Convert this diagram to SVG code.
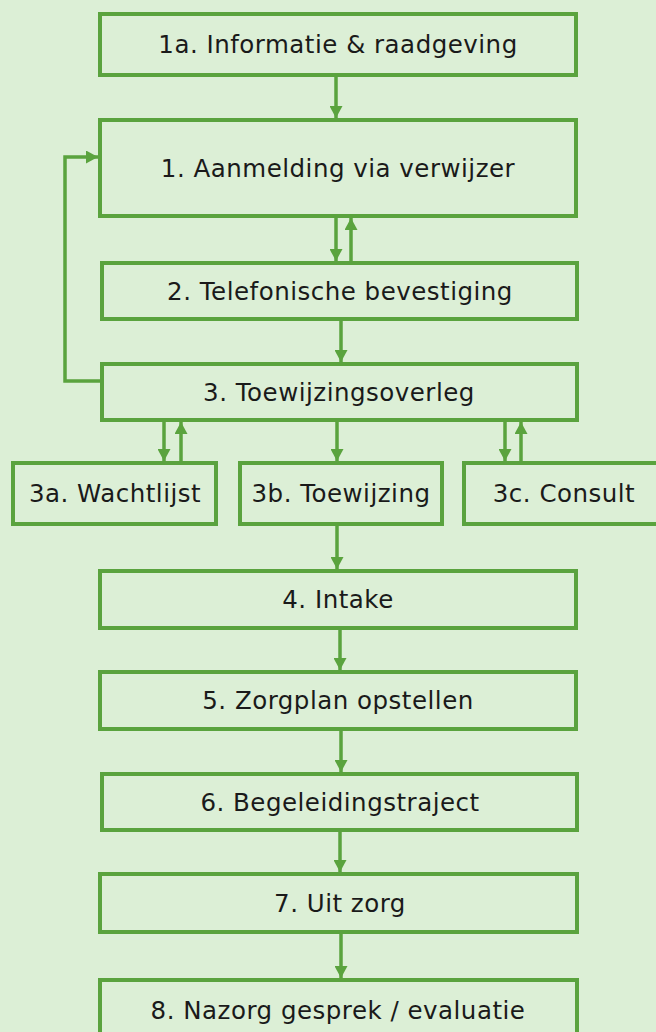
<svg xmlns="http://www.w3.org/2000/svg" width="656" height="1032" viewBox="0 0 656 1032">
<style>
.box{fill:#dcefd6;stroke:#5aa33e;stroke-width:4}
.lbl{font-family:"DejaVu Sans","Verdana",sans-serif;font-size:24.5px;letter-spacing:0.5px;fill:#1a1a1a;text-anchor:middle}
.con{fill:none;stroke:#5aa33e;stroke-width:3.5}
</style>
<defs>
<marker id="ah" markerWidth="13" markerHeight="13" refX="12" refY="6.5" orient="auto" markerUnits="userSpaceOnUse">
<path d="M0,0 L12,6.5 L0,13 z" fill="#5aa33e"/>
</marker>
</defs>
<rect width="656" height="1032" fill="#dcefd6"/>
<g id="connectors">
<line class="con" x1="336" y1="76" x2="336" y2="118" marker-end="url(#ah)"/>
<line class="con" x1="336" y1="218" x2="336" y2="261" marker-end="url(#ah)"/>
<line class="con" x1="351" y1="261" x2="351" y2="218" marker-end="url(#ah)"/>
<line class="con" x1="341" y1="321" x2="341" y2="362" marker-end="url(#ah)"/>
<polyline class="con" points="100,381 65,381 65,157 98,157" marker-end="url(#ah)"/>
<line class="con" x1="164" y1="422" x2="164" y2="461" marker-end="url(#ah)"/>
<line class="con" x1="181" y1="461" x2="181" y2="422" marker-end="url(#ah)"/>
<line class="con" x1="337" y1="422" x2="337" y2="461" marker-end="url(#ah)"/>
<line class="con" x1="505" y1="422" x2="505" y2="461" marker-end="url(#ah)"/>
<line class="con" x1="521" y1="461" x2="521" y2="422" marker-end="url(#ah)"/>
<line class="con" x1="337" y1="526" x2="337" y2="569" marker-end="url(#ah)"/>
<line class="con" x1="340" y1="630" x2="340" y2="670" marker-end="url(#ah)"/>
<line class="con" x1="341" y1="731" x2="341" y2="772" marker-end="url(#ah)"/>
<line class="con" x1="340" y1="832" x2="340" y2="872" marker-end="url(#ah)"/>
<line class="con" x1="341" y1="934" x2="341" y2="978" marker-end="url(#ah)"/>
</g>
<g id="n1a"><rect class="box" x="100" y="14" width="476" height="61"/><text class="lbl" x="338" y="53">1a. Informatie &amp; raadgeving</text></g>
<g id="n1"><rect class="box" x="100" y="120" width="476" height="96"/><text class="lbl" x="338" y="177">1. Aanmelding via verwijzer</text></g>
<g id="n2"><rect class="box" x="102" y="263" width="475" height="56"/><text class="lbl" x="340" y="300">2. Telefonische bevestiging</text></g>
<g id="n3"><rect class="box" x="102" y="364" width="475" height="56"/><text class="lbl" x="339" y="401">3. Toewijzingsoverleg</text></g>
<g id="n3a"><rect class="box" x="13" y="463" width="203" height="61"/><text class="lbl" x="115" y="502">3a. Wachtlijst</text></g>
<g id="n3b"><rect class="box" x="240" y="463" width="202" height="61"/><text class="lbl" x="341" y="502">3b. Toewijzing</text></g>
<g id="n3c"><rect class="box" x="464" y="463" width="204" height="61"/><text class="lbl" x="564" y="502">3c. Consult</text></g>
<g id="n4"><rect class="box" x="100" y="571" width="476" height="57"/><text class="lbl" x="338" y="608">4. Intake</text></g>
<g id="n5"><rect class="box" x="100" y="672" width="476" height="57"/><text class="lbl" x="338" y="709">5. Zorgplan opstellen</text></g>
<g id="n6"><rect class="box" x="102" y="774" width="475" height="56"/><text class="lbl" x="340" y="811">6. Begeleidingstraject</text></g>
<g id="n7"><rect class="box" x="100" y="874" width="477" height="58"/><text class="lbl" x="340" y="912">7. Uit zorg</text></g>
<g id="n8"><rect class="box" x="100" y="980" width="477" height="60"/><text class="lbl" x="338" y="1019">8. Nazorg gesprek / evaluatie</text></g>
</svg>
